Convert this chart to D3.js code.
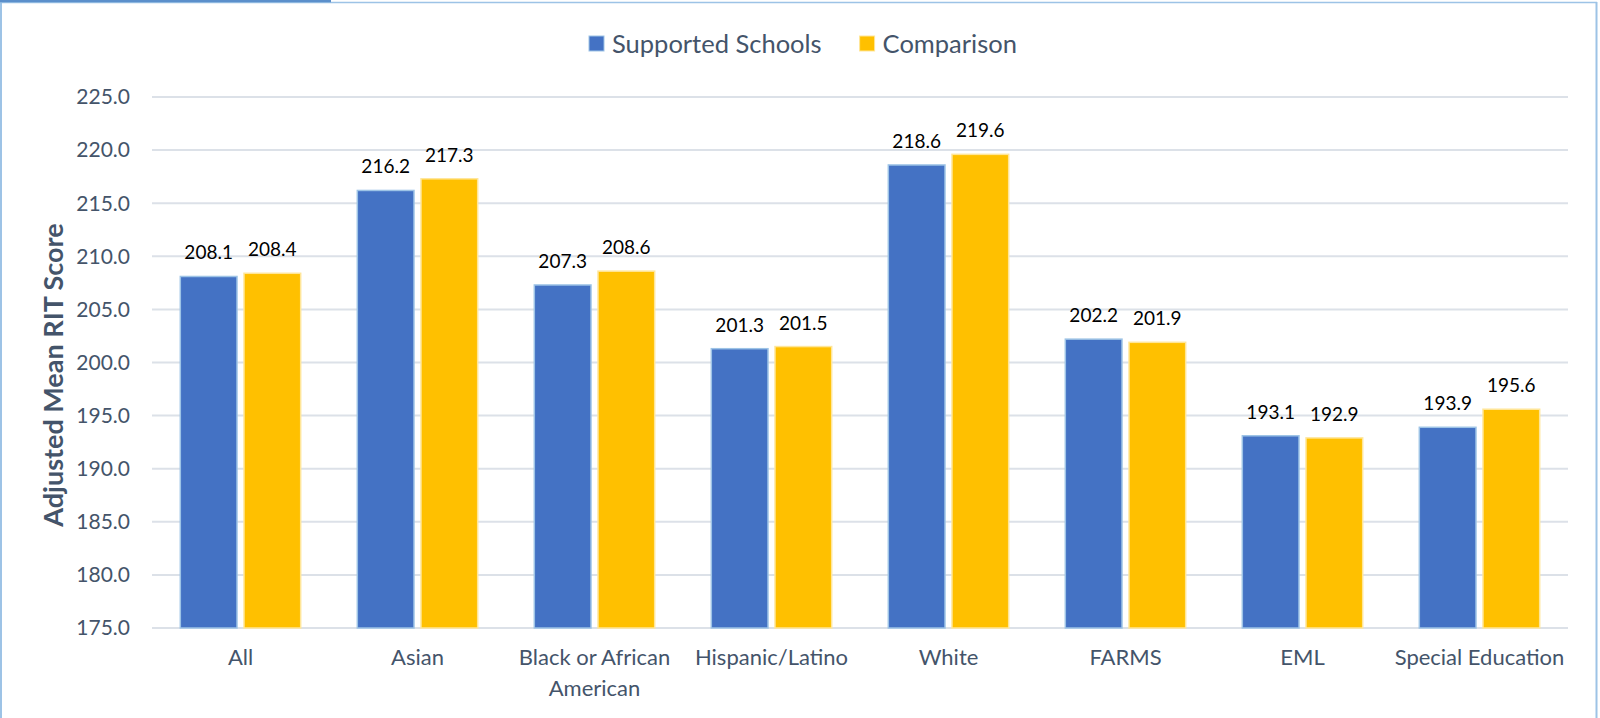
<!DOCTYPE html>
<html>
<head>
<meta charset="utf-8">
<script src="https://cdn.jsdelivr.net/npm/d3@7"></script>
<style>
  html, body { margin: 0; padding: 0; background: #fff; }
  svg { display: block; }
  text { font-family: Lato, "Open Sans", sans-serif; }
</style>
</head>
<body>
<svg id="chart" width="1600" height="718"></svg>
<script>
// chart values
var categories = ['All', 'Asian', 'Black or African American', 'Hispanic/Latino', 'White', 'FARMS', 'EML', 'Special Education'];
var categoryLines = [['All'], ['Asian'], ['Black or African', 'American'], ['Hispanic/Latino'], ['White'], ['FARMS'], ['EML'], ['Special Education']];
var seriesNames = ['Supported Schools', 'Comparison'];
var supported = [208.1, 216.2, 207.3, 201.3, 218.6, 202.2, 193.1, 193.9];
var comparison = [208.4, 217.3, 208.6, 201.5, 219.6, 201.9, 192.9, 195.6];
var yTicks = [175, 180, 185, 190, 195, 200, 205, 210, 215, 220, 225];

var colors = ['#4472C4', '#FFC000'];
var edges = ['#9DC3E6', '#FFE699'];
var axisColor = '#44546A';

var svg = d3.select('#chart');
var margin = { left: 152, right: 32, top: 97, bottom: 90 };
var W = 1600, H = 718;
var plotBottom = 628;

// frame
svg.append('line').attr('x1', 1).attr('x2', 1).attr('y1', 2).attr('y2', H)
  .attr('stroke', '#9DC3E6').attr('stroke-width', 2);
svg.append('line').attr('x1', 1596.5).attr('x2', 1596.5).attr('y1', 2).attr('y2', H)
  .attr('stroke', '#9DC3E6').attr('stroke-width', 2);
svg.append('line').attr('x1', 0).attr('x2', 1597).attr('y1', 2.5).attr('y2', 2.5)
  .attr('stroke', '#9DC3E6').attr('stroke-width', 1.5);
svg.append('line').attr('x1', 0).attr('x2', 331).attr('y1', 1).attr('y2', 1)
  .attr('stroke', '#5B8FCB').attr('stroke-width', 2.5);

var x0 = d3.scaleBand().domain(categories).range([margin.left, W - margin.right]).paddingInner(0.32).paddingOuter(0.16);
var x1 = d3.scaleBand().domain(seriesNames).range([0, x0.bandwidth()]).paddingInner(0.11);
var y = d3.scaleLinear().domain([175, 225]).range([plotBottom, margin.top]);

// gridlines
svg.append('g').selectAll('line').data(yTicks).join('line')
  .attr('x1', margin.left).attr('x2', W - margin.right)
  .attr('y1', function (d) { return y(d); }).attr('y2', function (d) { return y(d); })
  .attr('stroke', '#DCE1E8').attr('stroke-width', 2);

// y tick labels
svg.append('g').selectAll('text').data(yTicks).join('text')
  .attr('x', 130).attr('y', function (d) { return y(d); })
  .attr('dy', '0.35em').attr('text-anchor', 'end')
  .attr('font-size', 21).attr('fill', axisColor)
  .text(function (d) { return d3.format('.1f')(d); });

// y axis title
svg.append('text')
  .attr('transform', 'translate(63,375) rotate(-90)')
  .attr('text-anchor', 'middle')
  .attr('font-size', 27).attr('font-weight', 'bold').attr('fill', axisColor)
  .text('Adjusted Mean RIT Score');

// bars
var rows = categories.map(function (c, i) {
  return { cat: c, vals: [supported[i], comparison[i]] };
});
var groups = svg.append('g').selectAll('g').data(rows).join('g')
  .attr('transform', function (d) { return 'translate(' + x0(d.cat) + ',0)'; });

groups.selectAll('rect').data(function (d) {
  return d.vals.map(function (v, j) { return { name: seriesNames[j], v: v, j: j }; });
}).join('rect')
  .attr('x', function (d) { return x1(d.name); })
  .attr('y', function (d) { return y(d.v); })
  .attr('width', x1.bandwidth())
  .attr('height', function (d) { return plotBottom - y(d.v); })
  .attr('fill', function (d) { return colors[d.j]; })
  .attr('stroke', function (d) { return edges[d.j]; })
  .attr('stroke-width', 1.5);

groups.selectAll('text.val').data(function (d) {
  return d.vals.map(function (v, j) { return { name: seriesNames[j], v: v, j: j }; });
}).join('text')
  .attr('class', 'val')
  .attr('x', function (d) { return x1(d.name) + x1.bandwidth() / 2; })
  .attr('y', function (d) { return y(d.v) - 17; })
  .attr('text-anchor', 'middle')
  .attr('font-size', 19).attr('fill', '#000')
  .text(function (d) { return d3.format('.1f')(d.v); });

// category labels
svg.append('g').selectAll('text').data(categories).join('text')
  .attr('x', function (d) { return x0(d) + x0.bandwidth() / 2; })
  .attr('y', 665)
  .attr('text-anchor', 'middle')
  .attr('font-size', 22).attr('fill', axisColor)
  .each(function (d, i) {
    var t = d3.select(this);
    categoryLines[i].forEach(function (line, k) {
      t.append('tspan').attr('x', x0(d) + x0.bandwidth() / 2).attr('dy', k === 0 ? 0 : 31).text(line);
    });
  });

// legend
var legend = svg.append('g');
var lx = 589;
seriesNames.forEach(function (name, i) {
  var g = legend.append('g').attr('transform', 'translate(' + lx + ',36)');
  g.append('rect').attr('width', 15).attr('height', 15)
    .attr('fill', colors[i]).attr('stroke', edges[i]).attr('stroke-width', 1);
  var txt = g.append('text').attr('x', 23).attr('y', 8).attr('dy', '0.35em')
    .attr('font-size', 25.5).attr('fill', axisColor).text(name);
  lx += 23 + txt.node().getComputedTextLength() + 38;
});
</script>
</body>
</html>
